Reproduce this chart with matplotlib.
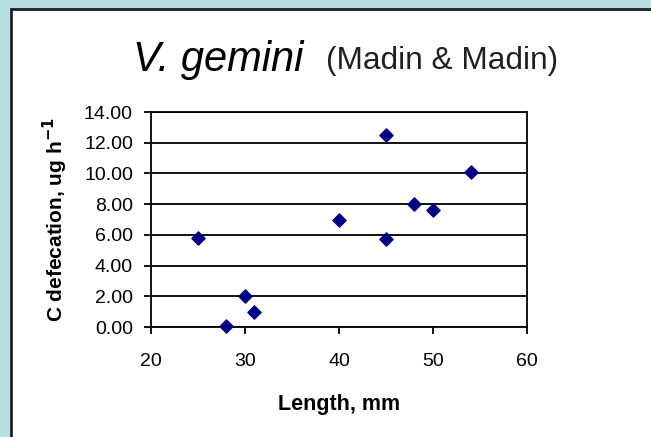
import matplotlib
matplotlib.use("Agg")
import matplotlib.pyplot as plt
from matplotlib.patches import Rectangle

# Madin & Madin: V. gemini carbon defecation vs body length
length_mm = [25, 28, 30, 31, 40, 45, 45, 48, 50, 54]
c_defecation = [5.8, 0.05, 2.0, 1.0, 7.0, 12.5, 5.75, 8.0, 7.6, 10.1]

x_ticks = [20, 30, 40, 50, 60]
y_ticks = [0, 2, 4, 6, 8, 10, 12, 14]

plt.rcParams["font.family"] = ["Liberation Sans", "DejaVu Sans"]

W, H = 651, 437
fig = plt.figure(figsize=(W / 100, H / 100), dpi=100)
fig.patch.set_facecolor("#b8dfe1")

# white chart panel with dark frame
fig.patches.append(Rectangle((11 / W, -0.05), 1.2, 1 - 9 / H + 0.05,
                             transform=fig.transFigure, facecolor="white",
                             edgecolor="#202020", lw=2, zorder=-5))

ax = fig.add_axes([151 / W, 1 - 327 / H, (527 - 151) / W, (327 - 112) / H])
ax.set_zorder(2)
ax.set_facecolor("white")
ax.scatter(length_mm, c_defecation, marker="D", s=45, color="#000080",
           zorder=3, clip_on=False)

ax.set_xlim(20, 60)
ax.set_ylim(0, 14)
ax.set_xticks(x_ticks)
ax.set_yticks(y_ticks)
ax.set_yticklabels([f"{v:.2f}" for v in y_ticks])
ax.yaxis.grid(True, color="black", lw=1.3)
ax.set_axisbelow(True)
for s in ax.spines.values():
    s.set_color("black")
    s.set_linewidth(1.3)
ax.tick_params(direction="out", length=5, width=1.3, labelsize=14)
ax.tick_params(axis="x", pad=14)
ax.tick_params(axis="y", pad=8)

ax.set_xlabel("Length, mm", fontsize=15.5, fontweight="bold", labelpad=17)
ax.set_ylabel("C defecation, ug h$^{\\mathbf{-1}}$", fontsize=15,
              fontweight="bold", labelpad=10)

fig.text(218 / W, 1 - 71 / H, "V. gemini", fontsize=30, style="italic",
         ha="center", va="baseline", zorder=3)
fig.text(326 / W, 1 - 69 / H, "(Madin & Madin)", fontsize=22.8,
         ha="left", va="baseline", color="#202020", zorder=3)

fig.savefig("out.png", dpi=100, facecolor=fig.get_facecolor())
